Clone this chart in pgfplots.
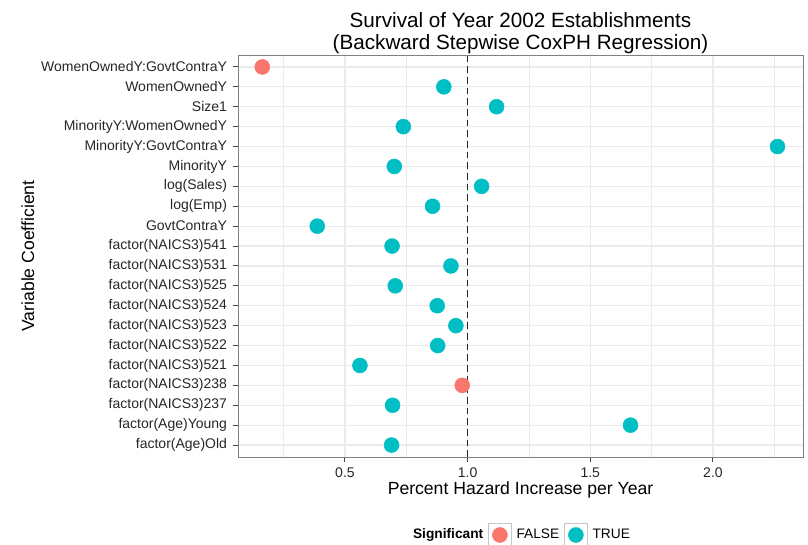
\documentclass[border=0pt]{standalone}
\usepackage{pgfplots}
\pgfplotsset{compat=1.18}
\usepackage{pgfplotstable}
\usepackage{fontspec}
\setmainfont{Liberation Sans}
\definecolor{cF}{HTML}{F8766D}
\definecolor{cT}{HTML}{00BFC4}
\definecolor{gridc}{HTML}{EBEBEB}
\pgfplotstableread{
y x
4 0.978
20 0.163
}\falsedata
\pgfplotstableread{
y x
1 0.690
2 1.664
3 0.694
5 0.561
6 0.878
7 0.952
8 0.876
9 0.705
10 0.932
11 0.692
12 0.387
13 0.857
14 1.057
15 0.701
16 2.263
17 0.738
18 1.118
19 0.903
}\truedata
\begin{document}
\begin{tikzpicture}
\useasboundingbox (0,0) rectangle (606pt,408pt);
\begin{axis}[
  at={(178.5pt,65.25pt)}, anchor=south west,
  scale only axis, width=423.75pt, height=301.5pt,
  xmin=0.064, xmax=2.367, ymin=0.4, ymax=20.6,
  xtick={0.5,1,1.5,2}, xticklabels={0.5,1.0,1.5,2.0},
  minor xtick={0.25,0.75,1.25,1.75,2.25},
  ytick={1,...,20},
  yticklabels={factor(Age)Old,factor(Age)Young,factor(NAICS3)237,factor(NAICS3)238,factor(NAICS3)521,factor(NAICS3)522,factor(NAICS3)523,factor(NAICS3)524,factor(NAICS3)525,factor(NAICS3)531,factor(NAICS3)541,GovtContraY,log(Emp),log(Sales),MinorityY,MinorityY:GovtContraY,MinorityY:WomenOwnedY,Size1,WomenOwnedY,WomenOwnedY:GovtContraY},
  grid=both,
  major grid style={gridc, line width=0.9pt},
  minor grid style={gridc, line width=0.5pt},
  minor tick length=0pt,
  major tick length=3.75pt,
  tick align=outside, tick pos=left,
  tick style={black!75, line width=0.75pt},
  axis line style={black!50, line width=0.6pt},
  ticklabel style={font=\fontsize{10.5}{12}\selectfont, text=black!85},
  xticklabel style={yshift=-1pt},
  yticklabel style={xshift=-1pt},
  xlabel={Percent Hazard Increase per Year},
  ylabel={Variable Coefficient},
  every axis x label/.style={at={(axis description cs:0.5,-0.082)}, anchor=center, font=\fontsize{13.2}{15}\selectfont},
  every axis y label/.style={at={(axis description cs:-0.372,0.5)}, anchor=center, rotate=90, font=\fontsize{13.2}{15}\selectfont},
  title={Survival of Year 2002 Establishments\\(Backward Stepwise CoxPH Regression)},
  title style={font=\fontsize{15.5}{16.5}\selectfont, align=center, at={(axis description cs:0.5,1.035)}, anchor=center},
  legend columns=-1,
  legend style={at={(axis description cs:0.5,-0.194)}, anchor=center, draw=none, fill=none,
    font=\fontsize{10.3}{12}\selectfont, column sep=1.5pt, inner sep=0pt},
  clip=false,
]
\addplot[black!85, line width=1.2pt, dash pattern=on 5pt off 3pt, forget plot] coordinates {(1,0.4) (1,20.6)};
\addlegendimage{empty legend}
\addlegendentry{\textbf{Significant}\hspace{2pt}}
\addplot[only marks, mark=*, mark size=5.6pt, color=cF, mark options={draw=none, fill=cF},
  legend image code/.code={\draw[black!22, line width=0.7pt, fill=white] (0pt,-8.6pt) rectangle (17.25pt,8.6pt); \fill[cF] (8.625pt,0pt) circle (5.6pt);}]
  table[x=x,y=y] {\falsedata};
\addlegendentry{FALSE}
\addplot[only marks, mark=*, mark size=5.6pt, color=cT, mark options={draw=none, fill=cT},
  legend image code/.code={\draw[black!22, line width=0.7pt, fill=white] (0pt,-8.6pt) rectangle (17.25pt,8.6pt); \fill[cT] (8.625pt,0pt) circle (5.6pt);}]
  table[x=x,y=y] {\truedata};
\addlegendentry{TRUE}
\end{axis}
\end{tikzpicture}
\end{document}
